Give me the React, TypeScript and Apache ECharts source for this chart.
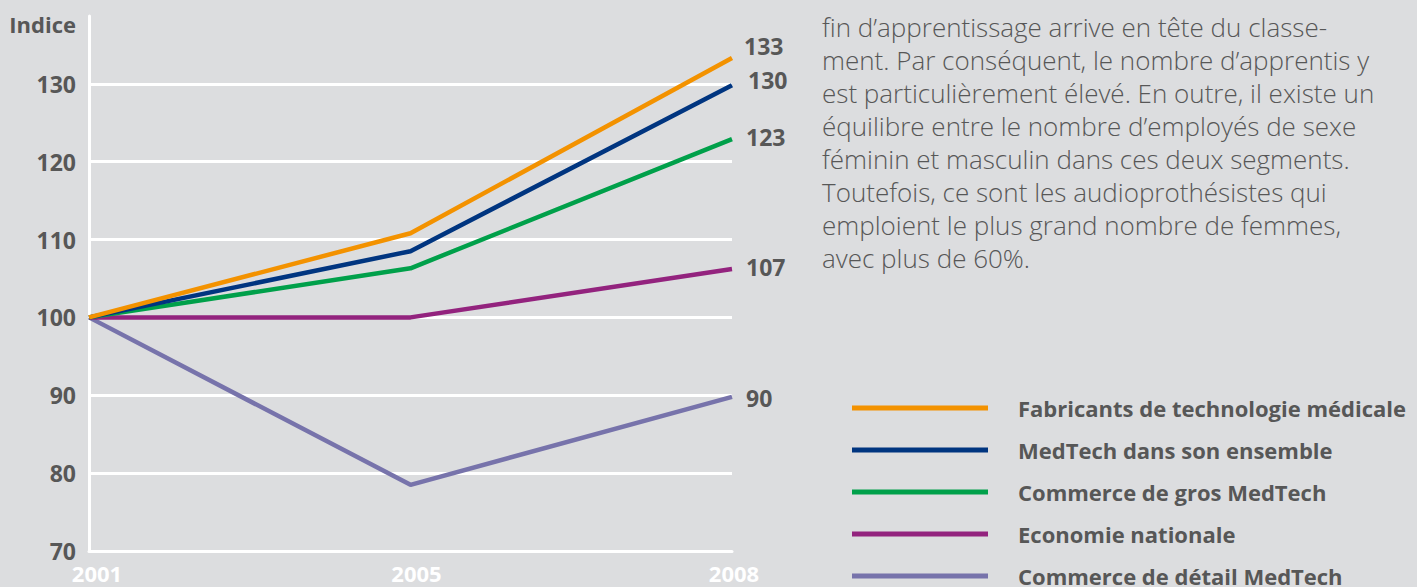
import React, { useEffect, useRef } from "react";
import * as echarts from "echarts";

const years = ["2001", "2005", "2008"];
const seriesNames = [
  "Fabricants de technologie médicale",
  "MedTech dans son ensemble",
  "Commerce de gros MedTech",
  "Economie nationale",
  "Commerce de détail MedTech",
];
const fabricants = [100, 110.8, 133.3];
const medtechEnsemble = [100, 108.5, 129.8];
const commerceGros = [100, 106.3, 122.9];
const economieNationale = [100, 100, 106.2];
const commerceDetail = [100, 78.5, 89.8];
const endLabels = ["133", "130", "123", "107", "90"];
const colors = ["#F39200", "#003580", "#00A04A", "#93237E", "#7773AB"];
const labelOffsets = [[0, -12], [4, -5], [2, -2], [2, -2], [2, 1]];
const paragraph = [
  "fin d’apprentissage arrive en tête du classe-",
  "ment. Par conséquent, le nombre d’apprentis y",
  "est particulièrement élevé. En outre, il existe un",
  "équilibre entre le nombre d’employés de sexe",
  "féminin et masculin dans ces deux segments.",
  "Toutefois, ce sont les audioprothésistes qui",
  "emploient le plus grand nombre de femmes,",
  "avec plus de 60%.",
];

const FONT = "'Open Sans', 'Noto Sans', sans-serif";
const GREY = "#575757";

export default function App() {
  const ref = useRef<HTMLDivElement>(null);
  useEffect(() => {
    document.body.style.margin = "0";
    document.body.style.background = "#DCDDDF";
    const chart = echarts.init(ref.current!, null, { renderer: "svg" });
    const values = [fabricants, medtechEnsemble, commerceGros, economieNationale, commerceDetail];
    const xLabelStyle = {
      color: "#ffffff",
      fontSize: 22,
      fontWeight: "bold",
      fontFamily: FONT,
    };
    chart.setOption({
      animation: false,
      backgroundColor: "#DCDDDF",
      textStyle: { fontFamily: FONT },
      grid: { left: 89, right: 685, top: 16, bottom: 36 },
      xAxis: {
        type: "category",
        data: years,
        boundaryGap: false,
        axisLine: { show: true, lineStyle: { color: "#ffffff", width: 3 } },
        axisTick: { show: false },
        splitLine: { show: false },
        axisLabel: {
          ...xLabelStyle,
          margin: 11,
          formatter: (v: string, i: number) => `{l${i}|${v}}`,
          rich: {
            l0: { ...xLabelStyle, padding: [0, 0, 0, 16] },
            l1: { ...xLabelStyle, padding: [0, 0, 0, 12] },
            l2: { ...xLabelStyle, padding: [0, 0, 0, 4] },
          },
        },
      },
      yAxis: {
        type: "value",
        min: 70,
        max: 138.7,
        interval: 10,
        axisLine: { show: true, lineStyle: { color: "#ffffff", width: 3 } },
        axisTick: { show: false },
        splitLine: {
          show: true,
          lineStyle: {
            color: ["#ffffff", "#ffffff", "#ffffff", "#ffffff", "#ffffff", "#ffffff", "#ffffff", "transparent"],
            width: 3,
          },
        },
        axisLabel: {
          color: GREY,
          fontSize: 23,
          fontWeight: "bold",
          fontFamily: FONT,
          margin: 13,
          formatter: (v: number) => (Math.abs(v % 10) < 0.001 ? String(v) : ""),
        },
      },
      legend: {
        show: true,
        type: "plain",
        orient: "vertical",
        left: 852,
        top: 395,
        width: 600,
        height: 220,
        padding: 0,
        itemWidth: 136,
        itemHeight: 5,
        itemGap: 16,
        icon: "rect",
        textStyle: {
          color: GREY,
          fontSize: 22,
          fontWeight: "bold",
          fontFamily: FONT,
          padding: [0, 0, 0, 25],
          height: 26,
          lineHeight: 26,
        },
        data: seriesNames,
      },
      graphic: [
        {
          type: "text",
          right: 1417 - 76,
          top: 13,
          style: {
            text: "Indice",
            fill: GREY,
            font: `bold 22px ${FONT}`,
          },
        },
        {
          type: "text",
          left: 822,
          top: 10,
          style: {
            text: paragraph.join("\n"),
            fill: GREY,
            font: `300 26px ${FONT}`,
            lineHeight: 33,
          },
        },
      ],
      series: values.map((v, i) => ({
        type: "line",
        name: seriesNames[i],
        data: v,
        symbol: "none",
        color: colors[i],
        lineStyle: { color: colors[i], width: 4.5 },
        z: 10 - i,
        endLabel: {
          show: true,
          formatter: () => endLabels[i],
          color: GREY,
          fontSize: 23,
          fontWeight: "bold",
          fontFamily: FONT,
          distance: 12,
          offset: labelOffsets[i],
        },
      })),
    });
    return () => chart.dispose();
  }, []);
  return (
    <div
      ref={ref}
      style={{ position: "absolute", left: 0, top: 0, width: 1417, height: 587 }}
    />
  );
}
